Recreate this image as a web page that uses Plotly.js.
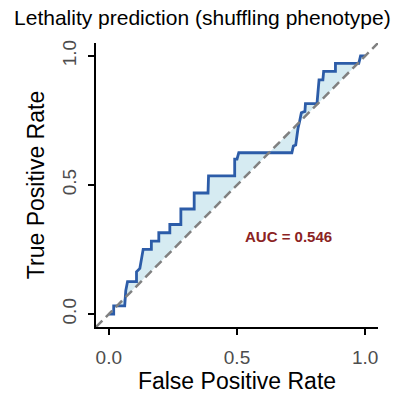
<!DOCTYPE html>
<html>
<head>
<meta charset="utf-8">
<script src="https://cdn.plot.ly/plotly-3.0.1.min.js"></script>
<style>html,body{margin:0;padding:0;background:#fff;}#chart{width:401px;height:396px;}</style>
</head>
<body>
<div id="chart"></div>
<script>
var fpr = [0, 0.019, 0.019, 0.062, 0.066, 0.073, 0.108, 0.108, 0.121, 0.127, 0.134, 0.166, 0.166, 0.195, 0.195, 0.238, 0.238, 0.281, 0.281, 0.333, 0.333, 0.387, 0.389, 0.491, 0.491, 0.5, 0.507, 0.714, 0.72, 0.729, 0.733, 0.738, 0.744, 0.751, 0.765, 0.767, 0.812, 0.815, 0.818, 0.82, 0.835, 0.838, 0.884, 0.884, 0.975, 0.982, 1.0];
var tpr = [0, 0, 0.032, 0.032, 0.09, 0.126, 0.126, 0.164, 0.177, 0.215, 0.251, 0.251, 0.283, 0.283, 0.315, 0.315, 0.347, 0.347, 0.407, 0.407, 0.469, 0.469, 0.535, 0.535, 0.6, 0.6, 0.625, 0.625, 0.651, 0.655, 0.689, 0.72, 0.745, 0.78, 0.785, 0.815, 0.815, 0.849, 0.88, 0.907, 0.907, 0.94, 0.94, 0.971, 0.971, 1.0, 1.0];
var chanceX = [0, 1];
var chanceY = [0, 1];
var refLineX = [-0.05, 1.05];
var refLineY = [-0.05, 1.05];
var tickVals = [0, 0.5, 1];
var tickText = ["0.0", "0.5", "1.0"];
var aucText = "AUC = 0.546";
var titleText = "Lethality prediction (shuffling phenotype)";

var traces = [
  {x: chanceX, y: chanceY, mode: 'lines', line: {width: 0, color: 'rgba(0,0,0,0)'}, hoverinfo: 'skip', showlegend: false},
  {x: fpr, y: tpr, mode: 'lines', fill: 'tonexty', fillcolor: 'rgba(173,216,230,0.5)',
   line: {color: '#2c5ca8', width: 2.8, shape: 'linear'}, showlegend: false},
  {x: refLineX, y: refLineY, mode: 'lines', line: {color: '#808080', width: 2.5, dash: '9px,5px'}, showlegend: false}
];

var axisBase = {
  showgrid: false, zeroline: false, showline: true, linecolor: '#000', linewidth: 2,
  ticks: 'outside', ticklen: 6, tickwidth: 2, tickcolor: '#000',
  tickvals: tickVals, ticktext: tickText,
  tickfont: {family: 'Liberation Sans, Arial, sans-serif', size: 19, color: '#4d4d4d'},
  range: [-0.05, 1.05], fixedrange: true
};

var layout = {
  width: 401, height: 396,
  margin: {l: 96, r: 23, t: 43, b: 69},
  paper_bgcolor: '#fff', plot_bgcolor: '#fff',
  font: {family: 'Liberation Sans, Arial, sans-serif'},
  title: {text: titleText, font: {size: 21, color: '#000'}, x: 0.035, xanchor: 'left', xref: 'container', y: 0.955, yanchor: 'middle', yref: 'container'},
  xaxis: Object.assign({}, axisBase, {
    title: {text: 'False Positive Rate', font: {size: 23, color: '#000'}, standoff: 6},
    ticklabelstandoff: 6
  }),
  yaxis: Object.assign({}, axisBase, {
    tickangle: -90,
    title: {text: 'True Positive Rate', font: {size: 23, color: '#000'}, standoff: 8},
    ticklabelstandoff: 4
  }),
  annotations: [{
    x: 0.7, y: 0.3, xref: 'x', yref: 'y', text: '<b>' + aucText + '</b>', showarrow: false,
    font: {size: 15, color: '#8b2323', family: 'Liberation Sans, Arial, sans-serif'}
  }]
};

Plotly.newPlot('chart', traces, layout, {displayModeBar: false, staticPlot: true});
</script>
</body>
</html>
